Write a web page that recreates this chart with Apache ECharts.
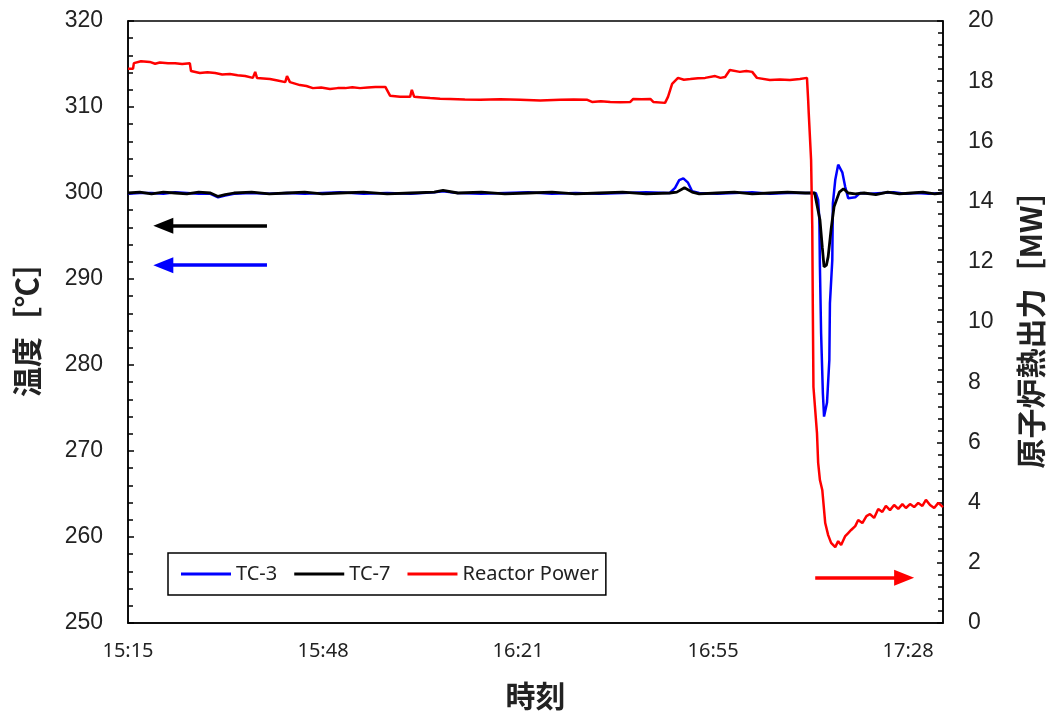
<!DOCTYPE html>
<html>
<head>
<meta charset="utf-8">
<script src="https://cdn.jsdelivr.net/npm/echarts@6/dist/echarts.min.js"></script>
<style>html,body{margin:0;padding:0;background:#fff;}#c{width:1053px;height:720px;}</style>
</head>
<body>
<div id="c"></div>
<script>
// ---- data (x in minutes after 15:15) ----
const xTickLabels = ['15:15', '15:48', '16:21', '16:55', '17:28'];
const X_INTERVAL = 33.12;
const X_MAX = 138.4;

const tc3Time = [0, 2, 4, 6, 8, 10, 12, 14, 15.3, 16.5, 18, 21, 24, 27, 30, 33, 36, 40, 44, 48, 52, 53.5, 56, 60, 64, 68, 72, 76, 80, 84, 88, 92, 92.9, 93.6, 94.3, 95.1, 95.8, 97, 100, 103, 106, 109, 112, 115, 116.8, 117.2, 117.4, 117.5, 117.7, 118.0, 118.2, 118.4, 118.7, 119.1, 119.2, 119.6, 119.7, 120.1, 120.6, 120.9, 121.3, 121.8, 122.3, 123.5, 124.3, 126, 128, 130, 132, 134, 136, 138.4];
const tc3Temp = [299.9, 300.0, 300.0, 299.9, 300.1, 300.0, 299.9, 299.9, 299.5, 299.7, 299.9, 300.0, 299.9, 300.0, 299.9, 300.0, 300.1, 299.9, 300.0, 299.9, 300.1, 300.2, 300.0, 299.9, 300.0, 300.1, 299.9, 300.0, 299.9, 300.0, 300.1, 300.0, 300.6, 301.5, 301.7, 301.2, 300.2, 300.0, 299.9, 300.0, 300.1, 299.9, 300.0, 300.0, 300.0, 299.2, 296.9, 291.4, 283.7, 276.7, 274.0, 273.8, 275.6, 280.6, 287.2, 292.2, 298.8, 301.5, 303.3, 303.1, 302.4, 300.7, 299.4, 299.5, 300.0, 299.9, 300.0, 300.1, 299.9, 300.0, 299.9, 300.0];

const tc7Time = [0, 2, 4, 6, 8, 10, 12, 14, 15.3, 16.5, 18, 21, 24, 27, 30, 33, 36, 40, 44, 48, 52, 53.5, 56, 60, 64, 68, 72, 76, 80, 84, 88, 92, 93.2, 94.5, 95.8, 97, 100, 103, 106, 109, 112, 115, 116.6, 117.5, 117.9, 118.2, 118.6, 118.9, 119.4, 119.9, 120.8, 121.5, 122.3, 123.5, 125, 127, 129, 131, 133, 135, 137, 138.4];
const tc7Temp = [300.0, 300.1, 299.9, 300.1, 300.0, 299.9, 300.1, 300.0, 299.6, 299.8, 300.0, 300.1, 299.9, 300.0, 300.1, 299.9, 300.0, 300.1, 299.9, 300.0, 300.1, 300.3, 300.0, 300.1, 299.9, 300.0, 300.1, 299.9, 300.0, 300.1, 299.9, 300.0, 300.1, 300.6, 300.1, 299.9, 300.0, 300.1, 299.9, 300.0, 300.1, 300.0, 300.0, 296.9, 293.7, 291.4, 291.6, 292.6, 295.8, 298.4, 300.1, 300.5, 300.0, 299.9, 300.0, 299.8, 300.1, 299.9, 300.0, 300.1, 299.9, 300.0];

const powerTime = [0, 0.85, 1.0, 2.2, 3.7, 4.6, 5.4, 6.8, 8.0, 9.2, 10.5, 10.7, 12.2, 13.5, 14.8, 16.0, 17.3, 18.6, 19.9, 21.2, 21.6, 21.9, 24.1, 25.4, 26.7, 27.0, 27.5, 29.2, 30.3, 31.4, 32.8, 34.3, 35.6, 36.9, 38.1, 39.4, 40.7, 42.0, 43.7, 44.5, 46.2, 47.9, 48.2, 48.6, 50.0, 51.3, 53.0, 54.7, 57.2, 59.8, 63.2, 66.6, 70.0, 73.4, 75.7, 78.0, 78.8, 80.3, 81.9, 83.6, 85.3, 85.8, 87.2, 88.7, 89.2, 91.2, 91.7, 92.4, 93.4, 94.4, 95.5, 96.8, 98.0, 99.7, 100.6, 101.4, 102.2, 103.9, 105.0, 106.0, 106.8, 109.0, 110.7, 112.4, 114.1, 115.3, 115.5, 115.6, 116.0, 116.2, 116.3, 116.4, 117.0, 117.2, 117.5, 117.9, 118.4, 118.9, 119.4, 120.1, 120.6, 121.1, 121.8, 122.3, 122.8, 123.5, 124.0, 124.7, 125.4, 126.0, 126.7, 127.4, 128.1, 128.7, 129.4, 130.1, 130.8, 131.5, 132.1, 132.8, 133.5, 134.2, 134.9, 135.5, 136.2, 136.9, 137.6, 138.4];
const powerMW = [18.41, 18.41, 18.60, 18.66, 18.64, 18.58, 18.62, 18.60, 18.60, 18.57, 18.60, 18.34, 18.27, 18.30, 18.27, 18.22, 18.24, 18.20, 18.17, 18.11, 18.31, 18.11, 18.07, 18.02, 17.97, 18.17, 17.97, 17.87, 17.84, 17.77, 17.79, 17.74, 17.77, 17.77, 17.80, 17.77, 17.79, 17.81, 17.81, 17.52, 17.48, 17.48, 17.71, 17.48, 17.46, 17.44, 17.42, 17.41, 17.39, 17.38, 17.40, 17.38, 17.36, 17.38, 17.39, 17.38, 17.31, 17.33, 17.31, 17.30, 17.31, 17.41, 17.40, 17.41, 17.31, 17.28, 17.48, 17.91, 18.11, 18.05, 18.07, 18.10, 18.11, 18.17, 18.11, 18.14, 18.37, 18.31, 18.34, 18.31, 18.11, 18.04, 18.06, 18.04, 18.07, 18.11, 17.38, 16.94, 15.38, 13.16, 10.30, 7.84, 6.31, 5.32, 4.75, 4.42, 3.32, 2.92, 2.66, 2.52, 2.72, 2.59, 2.89, 2.99, 3.09, 3.22, 3.42, 3.32, 3.55, 3.62, 3.49, 3.79, 3.69, 3.89, 3.75, 3.92, 3.79, 3.95, 3.82, 3.95, 3.85, 3.99, 3.89, 4.09, 3.92, 3.82, 3.99, 3.85];

// annotation arrows [xFrom, xTo, y]
const arrowTC7 = [23.6, 6.0, 296.2];
const arrowTC3 = [23.6, 6.0, 291.6];
const arrowPower = [116.7, 131.8, 1.5];

const zip = (a, b) => a.map((v, i) => [v, b[i]]);

function arrow(a, color) {
  return {
    silent: true,
    symbol: ['none', 'triangle'],
    symbolSize: [16, 20],
    label: { show: false },
    lineStyle: { color: color, width: 3.5, type: 'solid' },
    itemStyle: { color: color },
    emphasis: { disabled: true },
    animation: false,
    data: [[{ coord: [a[0], a[2]] }, { coord: [a[1], a[2]] }]]
  };
}

const chart = echarts.init(document.getElementById('c'), null, { renderer: 'canvas' });
const labelColor = '#222';
const numFont = 'Liberation Sans, Arial, sans-serif';
const titleFont = '"Noto Sans CJK JP", sans-serif';

chart.setOption({
  animation: false,
  backgroundColor: '#fff',
  grid: { left: 128, right: 110, top: 21, bottom: 97, outerBoundsMode: 'none', containLabel: false, show: true, borderColor: '#000', borderWidth: 1.5, backgroundColor: 'transparent' },
  legend: {
    left: 168, top: 553,
    orient: 'horizontal',
    itemWidth: 50, itemHeight: 3, itemGap: 17,
    padding: [11, 7, 11, 13],
    borderColor: '#000', borderWidth: 1.5,
    icon: 'rect',
    textStyle: { fontFamily: '"Noto Sans", sans-serif', fontSize: 20, color: '#222' },
    data: ['TC-3', 'TC-7', 'Reactor Power']
  },
  xAxis: {
    type: 'value', min: 0, max: X_MAX, interval: X_INTERVAL,
    name: '時刻', nameLocation: 'middle', nameGap: 58,
    nameTextStyle: { fontFamily: titleFont, fontSize: 30, fontWeight: 'bold', color: '#222' },
    axisLine: { show: true, lineStyle: { color: '#000', width: 1.5 } },
    axisTick: { show: false },
    splitLine: { show: false },
    axisLabel: {
      margin: 18, color: labelColor, fontFamily: '"Noto Sans", sans-serif', fontSize: 20,
      formatter: v => { const i = Math.round(v / X_INTERVAL); return Math.abs(v - i * X_INTERVAL) < 0.01 ? (xTickLabels[i] || '') : ''; }
    }
  },
  yAxis: [
    {
      type: 'value', min: 250, max: 320, interval: 10, position: 'left',
      name: '温度［℃］', nameLocation: 'middle', nameRotate: 90, nameGap: 86,
      nameTextStyle: { fontFamily: titleFont, fontSize: 30, fontWeight: 'bold', color: '#222' },
      axisLine: { show: true, lineStyle: { color: '#000', width: 1.5 } },
      axisTick: { show: true, inside: true, length: 6, lineStyle: { color: '#000', width: 1.5 } },
      minorTick: { show: true, splitNumber: 5, length: 5, lineStyle: { color: '#000', width: 1.5 } },
      splitLine: { show: false },
      axisLabel: { margin: 25, color: labelColor, fontFamily: numFont, fontSize: 23 }
    },
    {
      type: 'value', min: 0, max: 20, interval: 2, position: 'right',
      name: '原子炉熱出力［MW］', nameLocation: 'middle', nameRotate: 90, nameGap: 73,
      nameTextStyle: { fontFamily: titleFont, fontSize: 30, fontWeight: 'bold', color: '#222' },
      axisLine: { show: true, lineStyle: { color: '#000', width: 1.5 } },
      axisTick: { show: true, inside: true, length: 6, lineStyle: { color: '#000', width: 1.5 } },
      minorTick: { show: true, splitNumber: 5, length: 5, lineStyle: { color: '#000', width: 1.5 } },
      splitLine: { show: false },
      axisLabel: { margin: 25, color: labelColor, fontFamily: numFont, fontSize: 23 }
    }
  ],
  series: [
    {
      name: 'TC-3', type: 'line', yAxisIndex: 0, showSymbol: false, symbol: 'none',
      lineStyle: { color: '#0000ff', width: 2.5 }, itemStyle: { color: '#0000ff' },
      data: zip(tc3Time, tc3Temp), z: 2,
      markLine: arrow(arrowTC3, '#0000ff')
    },
    {
      name: 'TC-7', type: 'line', yAxisIndex: 0, showSymbol: false, symbol: 'none',
      lineStyle: { color: '#000000', width: 2.8 }, itemStyle: { color: '#000000' },
      data: zip(tc7Time, tc7Temp), z: 3,
      markLine: arrow(arrowTC7, '#000000')
    },
    {
      name: 'Reactor Power', type: 'line', yAxisIndex: 1, showSymbol: false, symbol: 'none',
      lineStyle: { color: '#ff0000', width: 2.5 }, itemStyle: { color: '#ff0000' },
      data: zip(powerTime, powerMW), z: 4,
      markLine: arrow(arrowPower, '#ff0000')
    }
  ]
});
</script>
</body>
</html>
